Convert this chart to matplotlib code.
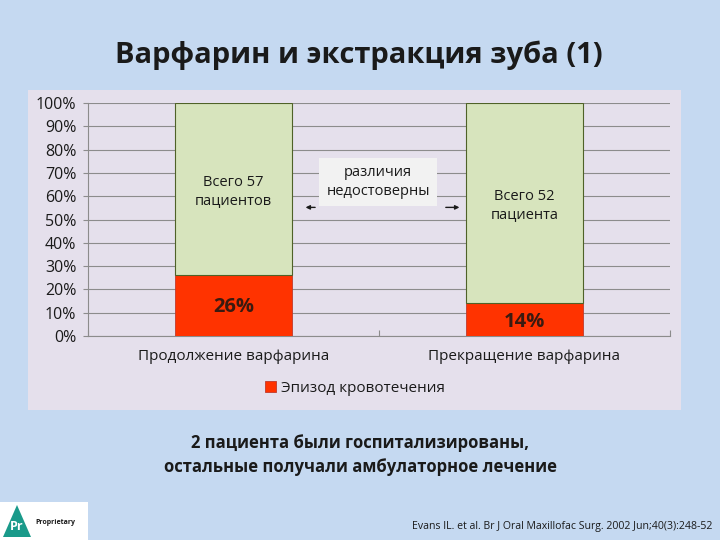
import matplotlib
matplotlib.use("Agg")
import matplotlib.pyplot as plt
from matplotlib.patches import Rectangle, Polygon

plt.rcParams['font.family'] = ['Open Sans', 'DejaVu Sans']

categories = ["Продолжение варфарина", "Прекращение варфарина"]
bleeding = [26, 14]
no_bleeding = [74, 86]
bar_texts = ["Всего 57\nпациентов", "Всего 52\nпациента"]
pct_labels = ["26%", "14%"]
yticks = list(range(0, 101, 10))
ytick_labels = [f"{v}%" for v in yticks]
legend_label = "Эпизод кровотечения"
title = "Варфарин и экстракция зуба (1)"
note = "2 пациента были госпитализированы,\nостальные получали амбулаторное лечение"
citation = "Evans IL. et al. Br J Oral Maxillofac Surg. 2002 Jun;40(3):248-52"
annot = "различия\nнедостоверны"

W, H = 720, 540
fig = plt.figure(figsize=(7.2, 5.4), dpi=100)
fig.patch.set_facecolor('#c5d9f1')

def fx(px): return px / W
def fy(py): return 1 - py / H

# chart panel
fig.patches.append(Rectangle((fx(28), fy(410)), fx(681) - fx(28), fy(90) - fy(410),
                             transform=fig.transFigure, facecolor='#e5e0ec', edgecolor='none', zorder=-5))

ax = fig.add_axes([fx(88), fy(336), fx(670) - fx(88), fy(103) - fy(336)])
ax.set_zorder(2)
ax.set_facecolor('none')
x = [0, 1]
red = '#ff3300'
green = '#d7e4bd'
edge = '#4f6228'
ax.bar(x, bleeding, width=0.4, color=red, edgecolor='#c0392b', linewidth=0.6, zorder=3, label=legend_label)
ax.bar(x, no_bleeding, bottom=bleeding, width=0.4, color=green, edgecolor=edge, linewidth=0.8, zorder=3)

ax.set_xlim(-0.5, 1.5)
ax.set_ylim(0, 100)
ax.set_yticks(yticks)
ax.set_yticklabels(ytick_labels, fontsize=11.5, color='#1a1a1a')
ax.yaxis.grid(True, color='#8c8c8c', linewidth=0.8, zorder=1)
ax.set_axisbelow(True)
for s in ['top', 'right']:
    ax.spines[s].set_visible(False)
ax.spines['left'].set_color('#8c8c8c')
ax.spines['bottom'].set_color('#8c8c8c')
ax.tick_params(axis='y', length=3.5, color='#8c8c8c', pad=5)
ax.set_xticks([-0.5, 0.5, 1.5], minor=False)
ax.set_xticklabels(['', '', ''])
ax.tick_params(axis='x', length=4, color='#8c8c8c', direction='in')
for xi, c in zip(x, categories):
    ax.text(xi, -9, c, ha='center', va='center', fontsize=11, color='#1a1a1a')

# in-bar texts
text_y = [62, 56]
for xi, t, ty in zip(x, bar_texts, text_y):
    ax.text(xi, ty, t, ha='center', va='center', fontsize=10.5, color='#1a1a1a', zorder=5,
            linespacing=1.35)
pct_y = [12.5, 5.8]
for xi, t, py in zip(x, pct_labels, pct_y):
    ax.text(xi, py, t, ha='center', va='center', fontsize=14.5, fontweight='bold', color='#3a1a10', zorder=5)

# annotation box
ax.text(0.497, 66, annot, ha='center', va='center', fontsize=10.5, color='#1a1a1a', zorder=6,
        linespacing=1.35,
        bbox=dict(boxstyle='square,pad=0.5', facecolor='#f2f2f2', edgecolor='none'))
ax.annotate('', xy=(0.238, 55.2), xytext=(0.29, 55.2),
            arrowprops=dict(arrowstyle='-|>', color='#1a1a1a', lw=1.0, mutation_scale=6), zorder=6)
ax.annotate('', xy=(0.786, 55.2), xytext=(0.72, 55.2),
            arrowprops=dict(arrowstyle='-|>', color='#1a1a1a', lw=1.0, mutation_scale=6), zorder=6)

# legend
leg = fig.legend(loc='center', bbox_to_anchor=(fx(355), fy(388)), frameon=False, fontsize=11,
                 handlelength=0.7, handleheight=0.7, handletextpad=0.3)
for t in leg.get_texts():
    t.set_color('#1a1a1a')

# title and notes
fig.text(fx(359), fy(55), title, ha='center', va='center', fontsize=21, fontweight='bold', color='#1a1a1a')
fig.text(fx(360), fy(455), note, ha='center', va='center', fontsize=12, fontweight='bold', color='#1a1a1a',
         linespacing=1.5)
fig.text(fx(712), fy(527), citation, ha='right', va='center', fontsize=7.6, color='#1a1a1a')

# logo
fig.patches.append(Rectangle((fx(0), fy(540)), fx(88), fy(502) - fy(540), transform=fig.transFigure,
                             facecolor='white', edgecolor='none', zorder=1))
fig.patches.append(Polygon([(fx(3), fy(537)), (fx(31), fy(537)), (fx(17), fy(505))], closed=True,
                           transform=fig.transFigure, facecolor='#1a9a8a', edgecolor='none', zorder=2))
fig.text(fx(17), fy(526), 'Pr', ha='center', va='center', fontsize=9, fontweight='bold', color='white', zorder=3)
fig.text(fx(35), fy(522), 'Proprietary', ha='left', va='center', fontsize=5, fontweight='bold', color='#1a1a1a', zorder=3)

fig.savefig('out.png', dpi=100)
